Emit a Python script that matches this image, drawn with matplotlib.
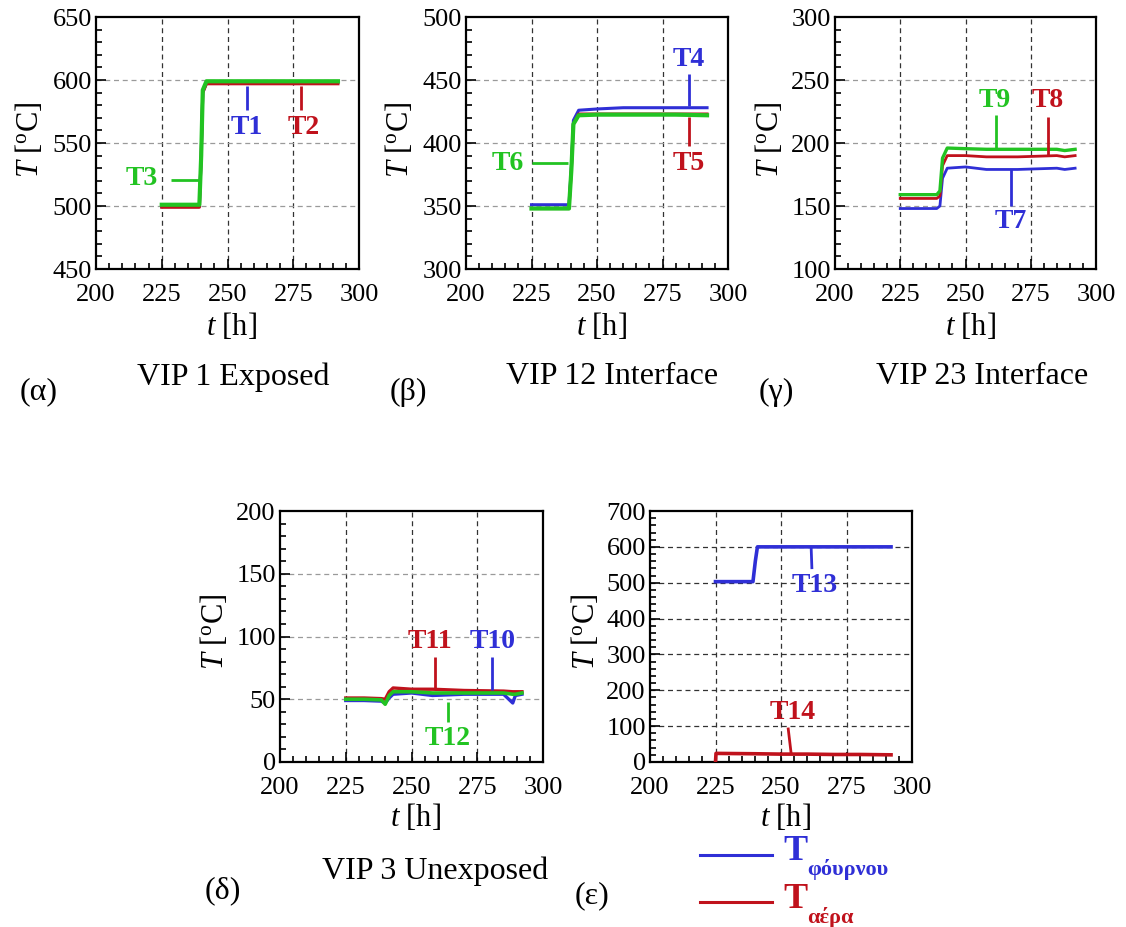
import matplotlib
matplotlib.use("Agg")
import matplotlib.pyplot as plt
from matplotlib.ticker import MultipleLocator

plt.rcParams["font.family"] = ["Liberation Serif", "DejaVu Serif"]
plt.rcParams["mathtext.fontset"] = "custom"
plt.rcParams["mathtext.rm"] = "Liberation Serif"
plt.rcParams["mathtext.it"] = "Liberation Serif:italic"
plt.rcParams["mathtext.bf"] = "Liberation Serif:bold"

BLUE = "#2f2fd6"
RED = "#c0121c"
GREEN = "#22c322"

# ---- measured temperatures (time in h, temperature in degC) ----
# VIP 1 exposed face
time_a = [225, 232, 239.3, 240.0, 240.6, 242, 250, 260, 270, 280, 292]
T1 = [499.5, 499.5, 499.5, 540, 590, 597.5, 598, 598, 597.5, 598, 598]
T2 = [499, 499, 499, 540, 590, 597, 597, 597, 597, 597, 597]
T3 = [501, 501, 501, 540, 592, 599, 599, 599, 599, 599, 599]

# VIP 1-2 interface
time_b = [225, 232, 239.3, 240.2, 241.0, 243, 250, 260, 270, 280, 292]
T4 = [351, 351, 351, 380, 418, 426, 427, 428, 428, 428, 428]
T5 = [348, 348, 348, 378, 415, 423, 423, 423, 423, 423, 423]
T6 = [348, 348, 348, 378, 415, 422, 422.5, 422.5, 422.5, 422.5, 422]

# VIP 2-3 interface
time_c = [225, 232, 239, 240.2, 241.2, 243, 250, 258, 270, 285, 288, 292]
T7 = [148, 148, 148, 150, 172, 180, 181, 179, 179, 180, 179, 180]
T8 = [156, 156, 156, 158, 182, 190, 190, 189, 189, 190, 189, 190]
T9 = [159, 159, 159, 162, 188, 196, 195.5, 195, 195, 195, 194, 195]

# VIP 3 unexposed face
time_d = [225, 232, 238.5, 240.0, 241.5, 243, 250, 258, 270, 285, 288.5, 289.5, 292]
T10 = [49, 49, 48.5, 47, 51, 54, 55, 53, 54, 54, 47, 53, 54]
T11 = [51, 51, 50.5, 50, 56, 59, 58, 58, 57, 56.5, 56, 56, 56]
T12 = [50, 50, 49.5, 46, 53, 56, 56, 55, 55, 55, 54, 54, 55]

# furnace and ambient air
time_e = [225, 225.2, 239.3, 240.2, 241, 250, 260, 270, 280, 292]
T13 = [503, 503, 503, 560, 600, 600, 600, 600, 600, 600]
time_e_air = [225, 225.2, 240, 250, 260, 270, 280, 292]
T14 = [0, 24, 23, 22, 22, 21, 21, 20]

W, H = 1126, 927
fig = plt.figure(figsize=(W / 100, H / 100), dpi=100)


def rect(l, t, r, b):
    return [l / W, 1 - b / H, (r - l) / W, (b - t) / H]


def style_axes(ax, ylim, ymajor, yminor, ygrid_color):
    ax.set_xlim(200, 300)
    ax.set_ylim(*ylim)
    ax.xaxis.set_major_locator(MultipleLocator(25))
    ax.xaxis.set_minor_locator(MultipleLocator(5))
    ax.yaxis.set_major_locator(MultipleLocator(ymajor))
    ax.yaxis.set_minor_locator(MultipleLocator(yminor))
    ax.tick_params(which="both", direction="in", top=False, right=False,
                   labelsize=19, width=1.2)
    ax.tick_params(axis="x", which="major", length=7, pad=11)
    ax.tick_params(axis="y", which="major", length=7, pad=3)
    ax.tick_params(which="minor", length=4)
    for lbl in ax.get_yticklabels():
        lbl.set_va("center_baseline")
    for s in ax.spines.values():
        s.set_linewidth(1.6)
    ax.grid(False)
    for xv in (225, 250, 275):
        ax.axvline(xv, color="#333333", lw=0.9, ls=(0, (4, 3)), zorder=1)
    ymin, ymax = ylim
    v = ymin + ymajor
    while v < ymax - 1e-9:
        ax.axhline(v, color=ygrid_color, lw=0.9, ls=(0, (4, 3)), zorder=1)
        v += ymajor


def label(ax, x, y, s, color):
    ax.text(x, y, s, color=color, fontsize=20, fontweight="bold",
            ha="center", va="center", zorder=6)


def leader(ax, xs, ys, color):
    ax.plot(xs, ys, color=color, lw=2.0, zorder=5, solid_capstyle="butt")


ylab = r"$T\ [^{\mathrm{o}}\mathrm{C}]$"
xlab = r"$t\ [\mathrm{h}]$"

# (α) VIP 1 Exposed
ax = fig.add_axes(rect(96, 17, 359, 269))
style_axes(ax, (450, 650), 50, 10, "#9a9a9a")
ax.plot(time_a, T1, color=BLUE, lw=2.2, zorder=3)
ax.plot(time_a, T2, color=RED, lw=2.2, zorder=3)
ax.plot(time_a, T3, color=GREEN, lw=3.0, zorder=4)
leader(ax, [257.3, 257.3], [595, 576], BLUE)
label(ax, 257.3, 562, "T1", BLUE)
leader(ax, [278, 278], [595, 576], RED)
label(ax, 279, 562, "T2", RED)
leader(ax, [228.5, 239.7], [521, 521], GREEN)
label(ax, 217.5, 522, "T3", GREEN)

# (β) VIP 12 Interface
ax = fig.add_axes(rect(466, 17, 728, 269))
style_axes(ax, (300, 500), 50, 10, "#9a9a9a")
ax.plot(time_b, T4, color=BLUE, lw=2.2, zorder=3)
ax.plot(time_b, T5, color=RED, lw=2.2, zorder=3)
ax.plot(time_b, T6, color=GREEN, lw=3.0, zorder=4)
leader(ax, [285, 285], [455, 429], BLUE)
label(ax, 285, 466, "T4", BLUE)
leader(ax, [285, 285], [421, 398], RED)
label(ax, 285, 384, "T5", RED)
leader(ax, [225.3, 239], [384, 384], GREEN)
label(ax, 216, 384, "T6", GREEN)

# (γ) VIP 23 Interface
ax = fig.add_axes(rect(835, 17, 1096, 269))
style_axes(ax, (100, 300), 50, 10, "#9a9a9a")
ax.plot(time_c, T7, color=BLUE, lw=2.0, zorder=3)
ax.plot(time_c, T8, color=RED, lw=2.0, zorder=3)
ax.plot(time_c, T9, color=GREEN, lw=2.4, zorder=4)
leader(ax, [261.5, 261.5], [222, 196], GREEN)
label(ax, 261.3, 234, "T9", GREEN)
leader(ax, [281.5, 281.5], [221, 190.5], RED)
label(ax, 281.5, 234, "T8", RED)
leader(ax, [267.3, 267.3], [179, 150], BLUE)
label(ax, 267.3, 138, "T7", BLUE)

# (δ) VIP 3 Unexposed
ax = fig.add_axes(rect(280, 511, 543, 762))
style_axes(ax, (0, 200), 50, 10, "#9a9a9a")
ax.plot(time_d, T10, color=BLUE, lw=2.4, zorder=3)
ax.plot(time_d, T11, color=RED, lw=2.4, zorder=3)
ax.plot(time_d, T12, color=GREEN, lw=2.6, zorder=4)
leader(ax, [258.8, 258.8], [84, 59], RED)
label(ax, 257, 96, "T11", RED)
leader(ax, [280.5, 280.5], [84, 57], BLUE)
label(ax, 281, 96, "T10", BLUE)
leader(ax, [263.7, 263.7], [48, 32], GREEN)
label(ax, 263.7, 19, "T12", GREEN)

# (ε) furnace / air
ax = fig.add_axes(rect(650, 511, 912, 762))
style_axes(ax, (0, 700), 100, 20, "#333333")
ax.plot(time_e, T13, color=BLUE, lw=2.6, zorder=3)
ax.plot(time_e_air, T14, color=RED, lw=2.6, zorder=3)
leader(ax, [261.5, 261.8], [600, 538], BLUE)
label(ax, 263, 491, "T13", BLUE)
leader(ax, [252.7, 253.9], [96, 22], RED)
label(ax, 254.5, 137, "T14", RED)

# axis titles
for cx, cy in [(232, 327), (602, 327), (971, 327), (416, 818), (786, 818)]:
    fig.text(cx / W, 1 - cy / H, xlab, fontsize=22, ha="center", va="center")
for cx, cy in [(30, 140), (400, 140), (770, 140), (215, 632), (585, 632)]:
    fig.text(cx / W, 1 - cy / H, ylab, fontsize=22, ha="center", va="center",
             rotation=90)

# panel captions
for cx, cy, s in [(233, 377, "VIP 1 Exposed"), (612, 377, "VIP 12 Interface"),
                  (982, 377, "VIP 23 Interface"), (435, 871, "VIP 3 Unexposed")]:
    fig.text(cx / W, 1 - cy / H, s, fontsize=23, ha="center", va="center")
for cx, cy, s in [(39, 392, "(α)"), (408, 392, "(β)"), (776, 392, "(γ)"),
                  (223, 891, "(δ)"), (592, 896, "(ε)")]:
    fig.text(cx / W, 1 - cy / H, s, fontsize=23, ha="center", va="center")

# legend of panel (ε)
for ly, color, sub in [(855, BLUE, "φόυρνου"), (902, RED, "αέρα")]:
    fig.add_artist(plt.Line2D([700 / W, 772 / W], [1 - ly / H, 1 - ly / H],
                              color=color, lw=2.2))
    fig.text(795 / W, 1 - (ly - 3) / H, "T", color=color, fontsize=26,
             fontweight="bold", ha="center", va="center")
    fig.text(807 / W, 1 - (ly + 15) / H, sub, color=color, fontsize=16,
             fontweight="bold", ha="left", va="center")

fig.savefig("out.png", dpi=100)
